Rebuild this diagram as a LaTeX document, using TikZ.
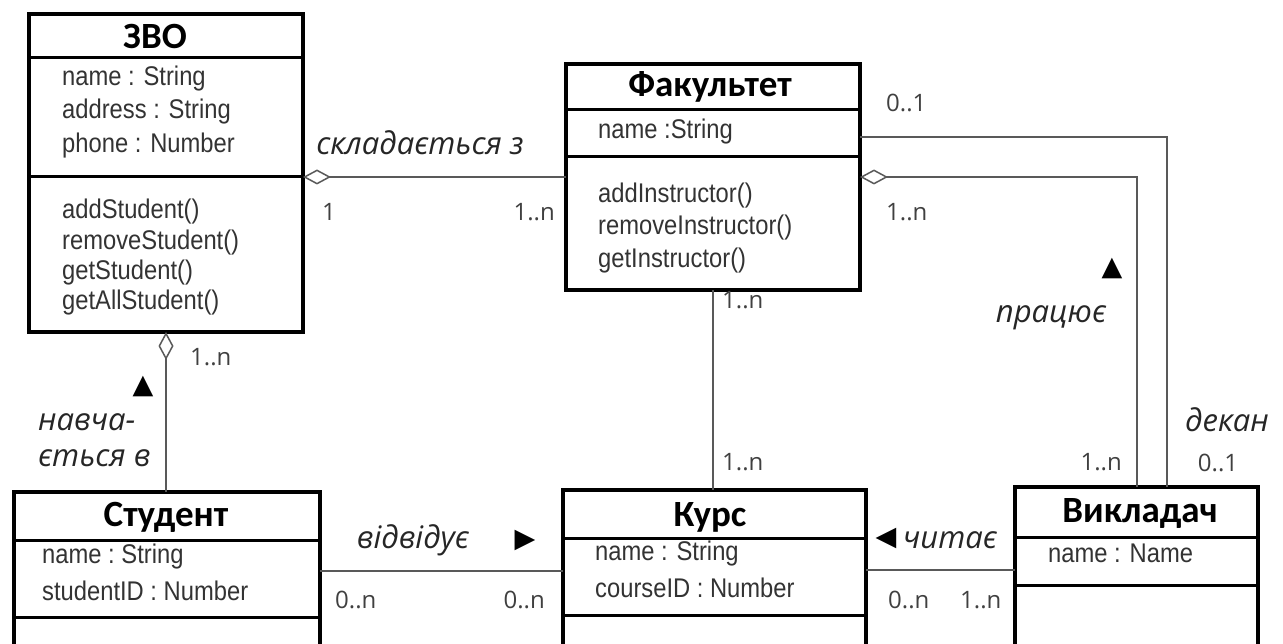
\documentclass[tikz,border=0pt]{standalone}
\usepackage{fontspec}
\setmainfont{Liberation Sans}[FakeStretch=0.88]
\newfontfamily\opensans{Open Sans}
\newfontfamily\carlito{Carlito}
\newfontfamily\symfont{DejaVu Sans}
\usetikzlibrary{arrows.meta}
\usetikzlibrary{calc}

\begin{document}
\begin{tikzpicture}[x=1pt, y=-1pt,
  cls/.style={draw, line width=3.5pt, inner sep=0, outer sep=0},
  sep/.style={line width=3pt},
  ttl/.style={inner sep=0, font=\carlito\bfseries\fontsize{37}{42}\selectfont},
  attr/.style={anchor=west, inner sep=0, text=black!80, font=\fontsize{27}{32}\selectfont},
  lbl/.style={inner sep=0, text=black!85, font=\opensans\itshape\fontsize{31}{36}\selectfont},
  mult/.style={inner sep=0, text=black!75, font=\opensans\fontsize{24}{28}\selectfont},
  tri/.style={inner sep=0, font=\symfont\fontsize{27}{30}\selectfont},
  conn/.style={draw=black!65, line width=2pt},
  agg/.style={conn, {Diamond[open, length=28pt, width=15pt, line width=1.5pt]}-}]
    \useasboundingbox (0,0) rectangle (1283,644);
    \clip (0,0) rectangle (1283,644);
    \fill[white] (0,0) rectangle (1283,644);

    % classes
    \node[cls, minimum width=274pt, minimum height=318pt] (zvo) at (166,173) {};
    \node[ttl] (zvoT) at (155,36) {ЗВО};
    \draw[sep] ($(zvo.north west)+(0,44)$) -- ($(zvo.north east)+(0,44)$);
    \draw[sep] ($(zvo.north west)+(0,163)$) -- ($(zvo.north east)+(0,163)$);
    \node[attr] (zvoA1) at (62,79) {name : String};
    \node[attr] (zvoA2) at (62,112) {address : String};
    \node[attr] (zvoA3) at (62,146) {phone : Number};
    \node[attr] (zvoM1) at (62,212) {addStudent()};
    \node[attr] (zvoM2) at (62,243) {removeStudent()};
    \node[attr] (zvoM3) at (62,273) {getStudent()};
    \node[attr] (zvoM4) at (62,303) {getAllStudent()};

    \node[cls, minimum width=294pt, minimum height=226pt] (fak) at (713,177) {};
    \node[ttl] (fakT) at (710,87) {Факультет};
    \draw[sep] ($(fak.north west)+(0,46)$) -- ($(fak.north east)+(0,46)$);
    \draw[sep] ($(fak.north west)+(0,93)$) -- ($(fak.north east)+(0,93)$);
    \node[attr] (fakA1) at (598,132) {name :String};
    \node[attr] (fakM1) at (598,196) {addInstructor()};
    \node[attr] (fakM2) at (598,228) {removeInstructor()};
    \node[attr] (fakM3) at (598,261) {getInstructor()};

    \node[cls, minimum width=306pt, minimum height=158pt] (stud) at (167,571) {};
    \node[ttl] (studT) at (166,517) {Студент};
    \draw[sep] ($(stud.north west)+(0,48)$) -- ($(stud.north east)+(0,48)$);
    \draw[sep] ($(stud.north west)+(0,125)$) -- ($(stud.north east)+(0,125)$);
    \node[attr] (studA1) at (42,557) {name :\ String};
    \node[attr] (studA2) at (42,591) {studentID : Number};

    \node[cls, minimum width=303pt, minimum height=160pt] (kurs) at (714.5,570) {};
    \node[ttl] (kursT) at (710,517) {Курс};
    \draw[sep] ($(kurs.north west)+(0,48)$) -- ($(kurs.north east)+(0,48)$);
    \draw[sep] ($(kurs.north west)+(0,125)$) -- ($(kurs.north east)+(0,125)$);
    \node[attr] (kursA1) at (595,554) {name : String};
    \node[attr] (kursA2) at (595,588) {courseID : Number};

    \node[cls, minimum width=243pt, minimum height=163pt] (vikl) at (1136.5,568.5) {};
    \node[ttl] (viklT) at (1140,513) {Викладач};
    \draw[sep] ($(vikl.north west)+(0,50)$) -- ($(vikl.north east)+(0,50)$);
    \draw[sep] ($(vikl.north west)+(0,98)$) -- ($(vikl.north east)+(0,98)$);
    \node[attr] (viklA1) at (1048,553) {name : Name};

    % associations
    \draw[agg] (zvo.east |- fak.west) -- (fak.west);
    \node[lbl] (skl) at (420,143) {складається з};
    \node[mult, anchor=west] (m1) at (322,212) {1};
    \node[mult, anchor=east] (m2) at (555,212) {1..n};

    \draw[agg] (zvo.south) -- (zvo.south |- stud.north);
    \node[mult, anchor=west] (m3) at (190,357) {1..n};
    \node[tri] (t1) at (143,386) {▲};
    \node[lbl, anchor=west, align=left] (nav) at (38,440) {навча-\\ється в};

    \draw[conn] (fak.south) -- (fak.south |- kurs.north);
    \node[mult, anchor=west] (m4) at (722,300) {1..n};
    \node[mult, anchor=west] (m5) at (722,462) {1..n};

    \draw[agg] (fak.east) -| (vikl.north);
    \node[mult, anchor=west] (m6) at (886,212) {1..n};
    \node[mult, anchor=east] (m7) at (1122,462) {1..n};
    \node[tri] (t2) at (1112,268) {▲};
    \node[lbl] (pra) at (1051,318) {працює};

    \draw[conn] ($(fak.east)+(0,-40)$) -| ($(vikl.north)+(30,0)$);
    \node[mult, anchor=west] (m8) at (886,103) {0..1};
    \node[lbl] (dek) at (1227,420) {декан};
    \node[mult] (m9) at (1218,463) {0..1};

    \draw[conn] (stud.east) -- (stud.east -| kurs.west);
    \node[lbl] (vid) at (413,540) {відвідує};
    \node[tri] (t3) at (525,540) {▶};
    \node[mult, anchor=west] (m10) at (335,600) {0..n};
    \node[mult, anchor=east] (m11) at (545,600) {0..n};

    \draw[conn] (kurs.east) -- (kurs.east -| vikl.west);
    \node[tri] (t4) at (886,538) {◀};
    \node[lbl, anchor=west] (cht) at (903,540) {читає};
    \node[mult, anchor=west] (m12) at (888,600) {0..n};
    \node[mult, anchor=west] (m13) at (960,600) {1..n};
\end{tikzpicture}
\end{document}
